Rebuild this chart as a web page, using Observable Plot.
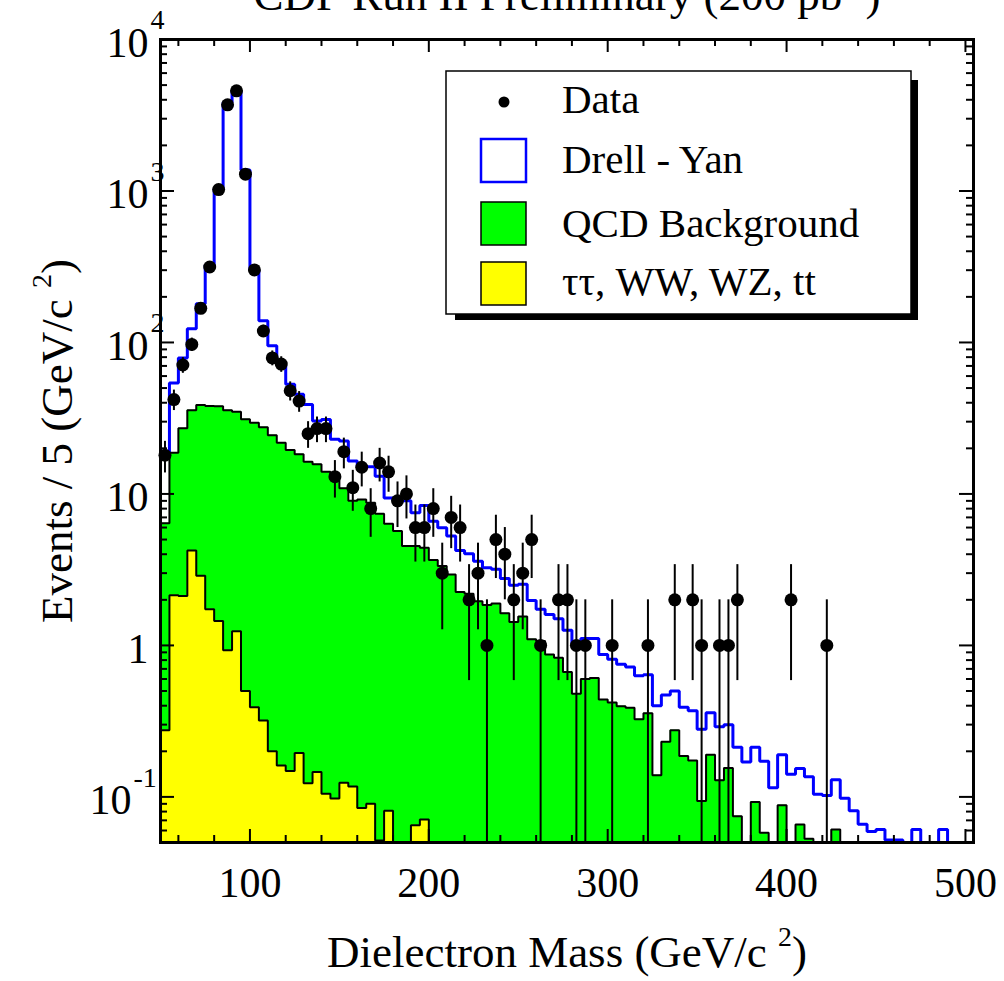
<!DOCTYPE html>
<html><head><meta charset="utf-8">
<script src="https://cdn.jsdelivr.net/npm/d3@7"></script>
<script src="https://cdn.jsdelivr.net/npm/@observablehq/plot@0.6"></script>
<style>
body{margin:0;background:#fff;}
#chart{width:1004px;height:981px;overflow:hidden;}
</style></head><body><div id="chart"></div>
<script>
// ---- data ----
const binWidth = 5;
const binLow = [50,55,60,65,70,75,80,85,90,95,100,105,110,115,120,125,130,135,140,145,
 150,155,160,165,170,175,180,185,190,195,200,205,210,215,220,225,230,235,240,245,
 250,255,260,265,270,275,280,285,290,295,300,305,310,315,320,325,330,335,340,345,
 350,355,360,365,370,375,380,385,390,395,400,405,410,415,420,425,430,435,440,445,
 450,455,460,465,470,475,480,485,490,495];
// Drell-Yan stacked total (blue outline)
const drellYanTotal = [18.5,54,79,123,180,325,1033,3837,4583,1377,
 301,139,95,71,53,45.5,39,30.3,31,23,
 22.4,16.5,15.1,15.1,13.1,9.4,9.0,9.0,7.5,8.4,
 6.6,5.98,5.27,4.24,4.03,3.6,3.26,3.18,2.77,2.50,
 2.53,1.98,1.73,1.60,1.50,1.26,1.03,1.11,1.11,0.87,
 0.81,0.75,0.72,0.63,0.64,0.40,0.47,0.50,0.39,0.37,
 0.28,0.36,0.29,0.30,0.213,0.170,0.213,0.172,0.115,0.19,
 0.141,0.154,0.136,0.104,0.102,0.130,0.098,0.081,0.066,0.059,
 0.061,0.052,0.052,0.03,0.061,0.03,0.03,0.061,0.03,0.03];
// QCD background stacked total (green)
const qcdTotal = [6.4,18.7,27.1,35.7,38.6,38,37.9,35.7,34.9,31.1,
 29.5,27.6,24.4,21.8,19.5,18.3,16.3,15.7,14.0,12.4,
 10.9,9.0,9.2,8.76,7.4,6.35,5.69,4.53,4.53,4.42,
 3.66,3.35,2.94,2.25,2.19,1.96,1.85,1.89,1.63,1.43,
 1.55,1.10,1.07,0.87,0.83,0.667,0.479,0.60,0.61,0.44,
 0.42,0.397,0.387,0.325,0.356,0.139,0.231,0.275,0.186,0.174,
 0.094,0.19,0.129,0.155,0.0746,0.03,0.0927,0.058,0.03,0.088,
 0.03,0.0657,0.053,0.03,0.03,0.061,0,0,0,0,
 0,0,0,0,0,0,0,0,0,0];
// tautau, WW, WZ, ttbar (yellow)
const otherBkg = [0.275,2.14,2.12,4.24,2.88,1.73,1.45,0.93,1.24,0.50,
 0.39,0.32,0.20,0.161,0.148,0.195,0.123,0.146,0.105,0.0976,
 0.124,0.117,0.0846,0.090,0.0515,0.081,0.03,0.03,0.065,0.071,
 0,0,0,0,0,0,0,0,0,0, 0,0,0,0,0,0,0,0,0,0, 0,0,0,0,0,0,0,0,0,0,
 0,0,0,0,0,0,0,0,0,0, 0,0,0,0,0,0,0,0,0,0, 0,0,0,0,0,0,0,0,0,0];
const dataMass = [52.5,57.5,62.5,67.5,72.5,77.5,82.5,87.5,92.5,97.5,
 102.5,107.5,112.5,117.5,122.5,127.5,132.5,137.5,142.5,147.5,
 152.5,157.5,162.5,167.5,172.5,177.5,182.5,187.5,192.5,197.5,
 202.5,207.5,212.5,217.5,222.5,227.5,232.5,237.5,242.5,247.5,
 252.5,257.5,262.5,272.5,277.5,282.5,287.5,302.5,322.5,
 337.5,347.5,352.5,362.5,367.5,372.5,402.5,422.5];
const dataCounts = [18,42,71,97,168,315,1021,3706,4580,1291,
 301,119,79,72,48,41,25,27,27,13,
 19,11,15,8,16,14,9,10,6,6,
 8,3,7,6,2,3,1,5,4,2,
 3,5,1,2,2,1,1,1,1,
 2,2,1,1,1,2,2,1];
const xTickLabels = [100,200,300,400,500];
const xMinorTicks = [60,80,120,140,160,180,220,240,260,280,320,340,360,380,420,440,460,480];
const yMajorTicks = [0.1,1,10,100,1000,10000];
const yTickBase = ["10","1","10","10","10","10"];
const yTickExp = ["-1","","","2","3","4"];
const legendLabels = ["Data","Drell - Yan","QCD Background","ττ, WW, WZ, tt"];
const legendFills = ["black","white","#00ff00","#ffff00"];
const legendStrokes = ["black","#0000ff","black","black"];
const titleText = "CDF Run II Preliminary (200 pb^{-1})";
const xTitle = "Dielectron Mass (GeV/c ^{2})";
const yTitle = "Events / 5 (GeV/c ^{2})";

// ---- layout ----
const W = 1004, H = 981;
const mT = 39, mB = 139, mL = 160, mR = 31;
const frameW = W - mL - mR, frameH = H - mT - mB;
const yMin = 0.05, yMax = 10000;
const serif = "'Liberation Serif','Times New Roman',Times,serif";

function stepPoints(vals){
  const pts = [{x: binLow[0], y: yMin}];
  vals.forEach((v,i) => {
    const y = Math.max(v, yMin);
    pts.push({x: binLow[i], y}, {x: binLow[i] + binWidth, y});
  });
  pts.push({x: binLow[binLow.length-1] + binWidth, y: yMin});
  return pts;
}
const bluePts = stepPoints(drellYanTotal);
const greenPts = stepPoints(qcdTotal);
const yellowPts = stepPoints(otherBkg);
const dataRows = dataMass.map((m,i) => ({m, n: dataCounts[i]}));

const yMinor = [];
for (let e = -2; e <= 3; e++) for (let k = 2; k <= 9; k++) {
  const v = k * Math.pow(10, e);
  if (v > yMin && v < yMax) yMinor.push(v);
}
const yLabelRows = yMajorTicks.map((v,i) => ({v, base: yTickBase[i], exp: yTickExp[i]}));
const yBasePos = yLabelRows.filter(r => !r.exp.startsWith("-"));
const yBaseNeg = yLabelRows.filter(r => r.exp.startsWith("-"));
const yExpPos = yLabelRows.filter(r => r.exp !== "" && !r.exp.startsWith("-"));

const chart = Plot.plot({
  width: W, height: H,
  marginTop: mT, marginBottom: mB, marginLeft: mL, marginRight: mR,
  style: {background: "white", fontFamily: serif, overflow: "visible"},
  x: {domain: [50, 504.5], axis: null},
  y: {type: "log", domain: [yMin, yMax], axis: null},
  marks: [
    Plot.line(bluePts, {x: "x", y: "y", stroke: "#0000ff", strokeWidth: 3, strokeLinejoin: "miter", strokeLinecap: "butt"}),
    Plot.areaY(greenPts, {x: "x", y1: () => yMin, y2: "y", fill: "#00ff00"}),
    Plot.line(greenPts, {x: "x", y: "y", stroke: "black", strokeWidth: 2, strokeLinejoin: "miter"}),
    Plot.areaY(yellowPts, {x: "x", y1: () => yMin, y2: "y", fill: "#ffff00"}),
    Plot.line(yellowPts, {x: "x", y: "y", stroke: "black", strokeWidth: 2, strokeLinejoin: "miter"}),
    Plot.ruleX(dataRows, {x: "m", y1: d => Math.max(d.n - Math.sqrt(d.n), yMin), y2: d => d.n + Math.sqrt(d.n), stroke: "black", strokeWidth: 2}),
    Plot.dot(dataRows, {x: "m", y: "n", r: 6.5, fill: "black", stroke: "none"}),
    // ticks (inward on all four sides)
    Plot.tickX(xMinorTicks, {x: d => d, insetTop: frameH - 7, stroke: "black", strokeWidth: 2}),
    Plot.tickX(xTickLabels, {x: d => d, insetTop: frameH - 13, stroke: "black", strokeWidth: 2}),
    Plot.tickX(xMinorTicks, {x: d => d, insetBottom: frameH - 7, stroke: "black", strokeWidth: 2}),
    Plot.tickX(xTickLabels, {x: d => d, insetBottom: frameH - 13, stroke: "black", strokeWidth: 2}),
    Plot.tickY(yMinor, {y: d => d, insetRight: frameW - 7, stroke: "black", strokeWidth: 2}),
    Plot.tickY(yMajorTicks, {y: d => d, insetRight: frameW - 14, stroke: "black", strokeWidth: 2}),
    Plot.tickY(yMinor, {y: d => d, insetLeft: frameW - 7, stroke: "black", strokeWidth: 2}),
    Plot.tickY(yMajorTicks, {y: d => d, insetLeft: frameW - 14, stroke: "black", strokeWidth: 2}),
    Plot.frame({stroke: "black", strokeWidth: 3}),
    // tick labels
    Plot.text(xTickLabels, {x: d => d, frameAnchor: "bottom", text: d => String(d), dy: 41, textAnchor: "middle", lineAnchor: "middle", fontSize: 42, fill: "black"}),
    Plot.text(yBasePos, {y: "v", frameAnchor: "left", text: "base", textAnchor: "end", dx: -12, dy: 4, lineAnchor: "middle", fontSize: 42, fill: "black"}),
    Plot.text(yBaseNeg, {y: "v", frameAnchor: "left", text: "base", textAnchor: "end", dx: -29, dy: 4, lineAnchor: "middle", fontSize: 42, fill: "black"}),
    Plot.text(yExpPos, {y: "v", frameAnchor: "left", text: "exp", textAnchor: "start", dx: -10, dy: -19, lineAnchor: "middle", fontSize: 28, fill: "black"}),
    Plot.text(yBaseNeg, {y: "v", frameAnchor: "left", text: "exp", textAnchor: "start", dx: -27, dy: -19, lineAnchor: "middle", fontSize: 28, fill: "black"}),
    // axis titles and title
    Plot.text([xTitle], {frameAnchor: "bottom", text: d => d, dy: 124, textAnchor: "middle", lineAnchor: "bottom", fontSize: 45, fill: "black"}),
    Plot.text([yTitle], {frameAnchor: "left", text: d => d, dx: -89, rotate: -90, textAnchor: "middle", lineAnchor: "bottom", fontSize: 45, fill: "black"}),
    Plot.text([titleText], {frameAnchor: "top", text: d => d, dy: -30, textAnchor: "middle", lineAnchor: "bottom", fontSize: 45, fill: "black"})
  ]
});
document.getElementById("chart").appendChild(chart);

const svg = d3.select(chart);

// superscripts written as ^{...}
svg.selectAll("text").each(function(){
  const el = this, t = el.textContent;
  if (!t.includes("^{")) return;
  const fs = parseFloat(getComputedStyle(el).fontSize) || 45;
  const parts = t.split(/(\^\{[^}]*\})/).filter(s => s.length);
  el.textContent = "";
  let raised = false;
  for (const p of parts) {
    const ts = document.createElementNS("http://www.w3.org/2000/svg", "tspan");
    if (p.startsWith("^{")) {
      ts.textContent = p.slice(2, -1);
      ts.setAttribute("font-size", fs * 0.62);
      ts.setAttribute("dy", -fs * 0.45);
      raised = true;
    } else {
      ts.textContent = p;
      if (raised) { ts.setAttribute("dy", fs * 0.45); raised = false; }
    }
    el.appendChild(ts);
  }
});

// legend
const lg = svg.append("g").attr("font-family", serif).attr("text-anchor", "start");
lg.append("rect").attr("x", 455).attr("y", 80).attr("width", 463).attr("height", 240).attr("fill", "black");
lg.append("rect").attr("x", 446).attr("y", 71).attr("width", 465).attr("height", 243).attr("fill", "white").attr("stroke", "black").attr("stroke-width", 1.5);
const rowBase = [113, 173, 237, 295];
const boxTop = [null, 139, 202, 262];
legendLabels.forEach((lab, i) => {
  if (i === 0) {
    lg.append("circle").attr("cx", 504).attr("cy", 102).attr("r", 5.5).attr("fill", legendFills[0]);
  } else {
    lg.append("rect").attr("x", 481).attr("y", boxTop[i]).attr("width", 45).attr("height", 43)
      .attr("fill", legendFills[i]).attr("stroke", legendStrokes[i]).attr("stroke-width", i === 1 ? 2.5 : 1.5);
  }
  lg.append("text").attr("x", 562).attr("y", rowBase[i]).attr("font-size", 41).attr("fill", "black")
    .attr("text-anchor", "start").text(lab);
});
</script></body></html>
